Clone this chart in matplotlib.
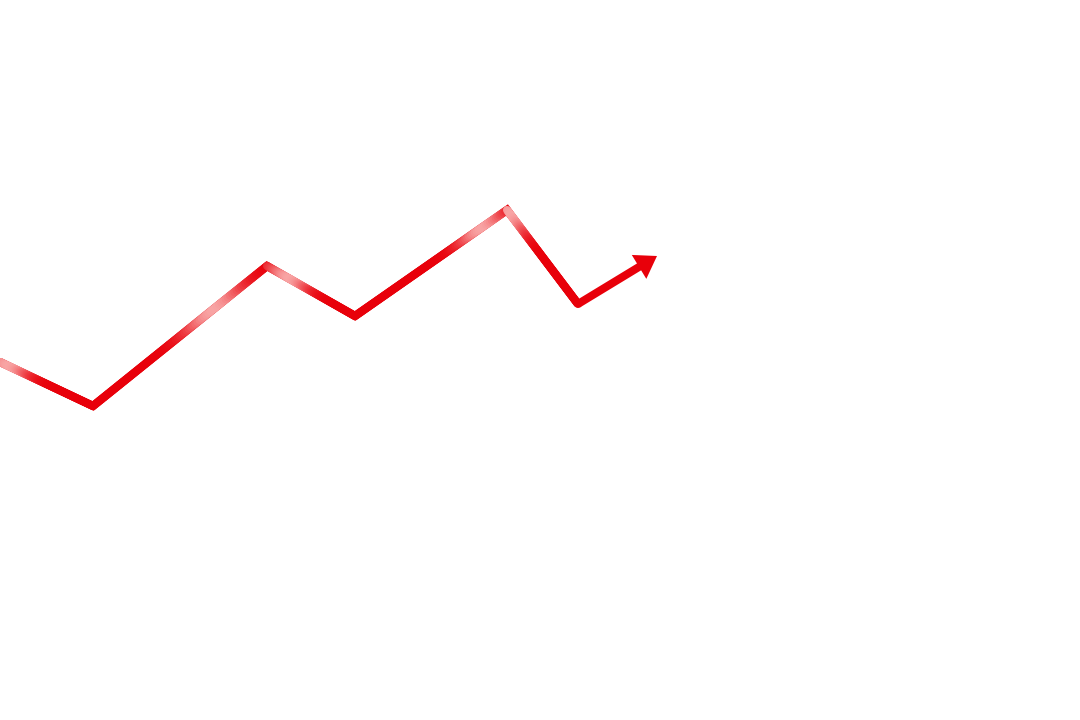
import numpy as np
import matplotlib
matplotlib.use('Agg')
import matplotlib.pyplot as plt
from matplotlib.collections import LineCollection
from matplotlib.colors import to_rgb

# vertices of the trend line (pixel-like coordinates, y grows downward)
xs = [0, 93, 267, 355, 507, 578]
ys = [362, 406, 266, 316, 210, 304]
arrow_tip = (657, 256)
# where along each segment the glossy highlight sits (fraction of segment)
glint = [0.1, 0.7, 0.26, 0.84, 0.06]
spread = [0.22, 0.16, 0.22, 0.14, 0.2]

RED = np.array(to_rgb('#e8000a'))
PINK = np.array(to_rgb('#f8a4a4'))
LW = 6.0

fig = plt.figure(figsize=(10.8, 7.2), dpi=100)
ax = fig.add_axes([0, 0, 1, 1])
ax.set_xlim(0, 1080)
ax.set_ylim(720, 0)
ax.axis('off')

# solid base line with sharp corners
ax.plot(xs, ys, color=RED, lw=LW, solid_joinstyle='miter', solid_capstyle='butt')

# glossy overlay, drawn as many short pieces
segs, cols = [], []
n = 80
for i in range(len(xs) - 1):
    t = np.linspace(0, 1, n + 1)
    px = xs[i] + (xs[i + 1] - xs[i]) * t
    py = ys[i] + (ys[i + 1] - ys[i]) * t
    for k in range(n):
        tm = (t[k] + t[k + 1]) / 2
        w = np.exp(-((tm - glint[i]) / spread[i]) ** 2)
        segs.append([(px[k], py[k]), (px[k + 1], py[k + 1])])
        cols.append(RED * (1 - w) + PINK * w)

lc = LineCollection(segs, colors=cols, linewidths=LW * 0.97, capstyle='round')
ax.add_collection(lc)

# final arrow
dx = arrow_tip[0] - xs[-1]
dy = arrow_tip[1] - ys[-1]
ax.arrow(xs[-1], ys[-1], dx, dy, width=8, head_width=28, head_length=21,
         length_includes_head=True, color=RED, lw=0)

fig.savefig('out.png', dpi=100)
